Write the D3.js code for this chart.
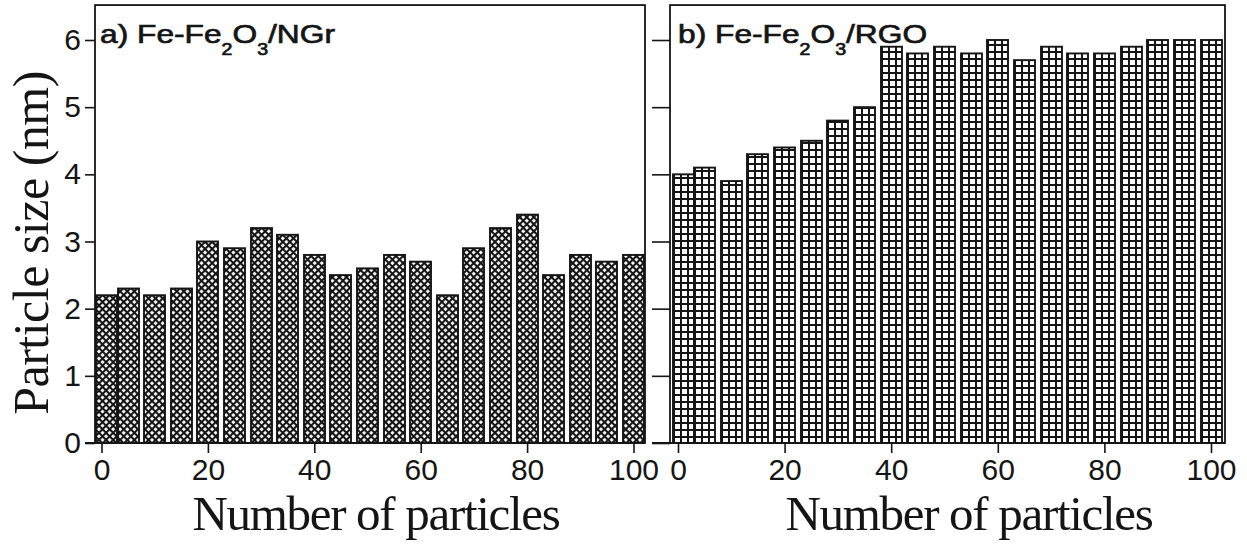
<!DOCTYPE html>
<html>
<head>
<meta charset="utf-8">
<script src="https://cdn.jsdelivr.net/npm/d3@7"></script>
<style>
  body { margin: 0; background: #fff; }
  svg { display: block; }
</style>
</head>
<body>
<svg id="chart" width="1247" height="550"></svg>
<script>
// Particle index along the x axis (bars are plotted at these positions)
const particleIndex = [1, 5, 10, 15, 20, 25, 30, 35, 40, 45, 50, 55, 60, 65, 70, 75, 80, 85, 90, 95, 100];
// Particle size (nm) of Fe-Fe2O3 on N-doped graphene
const sizeNGr = [2.2, 2.3, 2.2, 2.3, 3.0, 2.9, 3.2, 3.1, 2.8, 2.5, 2.6, 2.8, 2.7, 2.2, 2.9, 3.2, 3.4, 2.5, 2.8, 2.7, 2.8];
// Particle size (nm) of Fe-Fe2O3 on reduced graphene oxide
const sizeRGO = [4.0, 4.1, 3.9, 4.3, 4.4, 4.5, 4.8, 5.0, 5.9, 5.8, 5.9, 5.8, 6.0, 5.7, 5.9, 5.8, 5.8, 5.9, 6.0, 6.0, 6.0];
const xTickValues = [0, 20, 40, 60, 80, 100];
const yTickValues = [0, 1, 2, 3, 4, 5, 6];
const panelLetters = ["a)", "b)"];
const panelSupports = ["NGr", "RGO"];
const xTitle = "Number of particles";
const yTitle = "Particle size (nm)";

const svg = d3.select("#chart");
const defs = svg.append("defs");
const ink = "#151515";

// Shared vertical scale
const yTop = 6.52;
const y = d3.scaleLinear().domain([0, 6]).range([443, 40]);

// Diagonal cross-hatch used for the NGr bars
const hatch = defs.append("pattern")
  .attr("id", "hatch-diag")
  .attr("patternUnits", "userSpaceOnUse")
  .attr("width", 5).attr("height", 5)
  .attr("patternTransform", "rotate(45)");
hatch.append("rect").attr("width", 5).attr("height", 5).attr("fill", "#fff");
hatch.append("rect").attr("width", 5).attr("height", 2.1).attr("fill", ink);
hatch.append("rect").attr("width", 2.1).attr("height", 5).attr("fill", ink);

const panels = [
  { values: sizeNGr, frame: [95, 645], range: [101.5, 633.5], tick: 10, fill: "diag",
    yLabels: true, titleX: 376, labelX: 100 },
  { values: sizeRGO, frame: [670, 1225], range: [678, 1211], tick: 18, fill: "grid",
    yLabels: false, titleX: 969, labelX: 678 }
];

const barW = 21;

panels.forEach((p, pi) => {
  const x = d3.scaleLinear().domain([0, 100]).range(p.range);
  const g = svg.append("g");

  // bars
  const bars = g.append("g");
  p.values.forEach((v, i) => {
    const bx = Math.round(x(particleIndex[i]) - barW / 2);
    let fill = "url(#hatch-diag)";
    if (p.fill === "grid") {
      // square grid anchored to each bar's own left edge and the baseline
      const id = `grid-${pi}-${i}`;
      const pat = defs.append("pattern")
        .attr("id", id)
        .attr("patternUnits", "userSpaceOnUse")
        .attr("x", bx).attr("y", y(0))
        .attr("width", 7).attr("height", 7);
      pat.append("rect").attr("width", 7).attr("height", 7).attr("fill", "#fff");
      pat.append("rect").attr("width", 7).attr("height", 1.6).attr("fill", ink)
        .attr("shape-rendering", "crispEdges");
      pat.append("rect").attr("width", 1.6).attr("height", 7).attr("fill", ink)
        .attr("shape-rendering", "crispEdges");
      fill = `url(#${id})`;
    }
    bars.append("rect")
      .attr("x", bx)
      .attr("y", y(v))
      .attr("width", barW)
      .attr("height", y(0) - y(v))
      .attr("fill", fill)
      .attr("stroke", ink)
      .attr("stroke-width", 1.9);
  });

  // frame
  g.append("rect")
    .attr("x", p.frame[0]).attr("y", y(yTop))
    .attr("width", p.frame[1] - p.frame[0])
    .attr("height", y(0) - y(yTop))
    .attr("fill", "none").attr("stroke", ink).attr("stroke-width", 1.8);

  // baseline extends left by the tick length
  g.append("line")
    .attr("x1", p.frame[0] - p.tick).attr("x2", p.frame[1])
    .attr("y1", y(0)).attr("y2", y(0))
    .attr("stroke", ink).attr("stroke-width", 1.8);

  // x axis
  const xa = g.append("g")
    .attr("transform", `translate(0,${y(0)})`)
    .call(d3.axisBottom(x).tickValues(xTickValues).tickSize(10).tickPadding(6).tickFormat(d3.format("d")));
  xa.select(".domain").remove();

  // y axis
  const ya = g.append("g")
    .attr("transform", `translate(${p.frame[0]},0)`)
    .call(d3.axisLeft(y).tickValues(yTickValues).tickSize(p.tick).tickPadding(4)
      .tickFormat(p.yLabels ? d3.format("d") : () => ""));
  ya.select(".domain").remove();

  [xa, ya].forEach(a => {
    a.selectAll(".tick line").attr("stroke", ink).attr("stroke-width", 1.6);
    a.selectAll(".tick text")
      .attr("fill", ink)
      .style("font-family", "'Liberation Sans', Arial, sans-serif")
      .style("font-size", "30px");
  });

  // x title
  g.append("text")
    .attr("x", p.titleX).attr("y", 530)
    .attr("text-anchor", "middle")
    .style("font-family", "'Liberation Serif', 'Times New Roman', serif")
    .style("font-size", "49px")
    .style("letter-spacing", "-1.3px")
    .attr("fill", ink)
    .text(xTitle);

  // panel label with subscripts
  const lbl = g.append("text")
    .attr("transform", `translate(${p.labelX},43) scale(1.22,1)`)
    .style("font-family", "'Liberation Sans', Arial, sans-serif")
    .style("font-size", "26px")
    .attr("fill", ink)
    .attr("stroke", ink).attr("stroke-width", 0.7);
  lbl.append("tspan").text(`${panelLetters[pi]} Fe-Fe`);
  lbl.append("tspan").attr("dy", 12).style("font-size", "16px").text("2");
  lbl.append("tspan").attr("dy", -12).text("O");
  lbl.append("tspan").attr("dy", 12).style("font-size", "16px").text("3");
  lbl.append("tspan").attr("dy", -12).text(`/${panelSupports[pi]}`);
});

// y title
svg.append("text")
  .attr("transform", "translate(48,243) rotate(-90)")
  .attr("text-anchor", "middle")
  .style("font-family", "'Liberation Serif', 'Times New Roman', serif")
  .style("font-size", "50px")
  .style("letter-spacing", "-0.5px")
  .attr("fill", ink)
  .text(yTitle);
</script>
</body>
</html>
